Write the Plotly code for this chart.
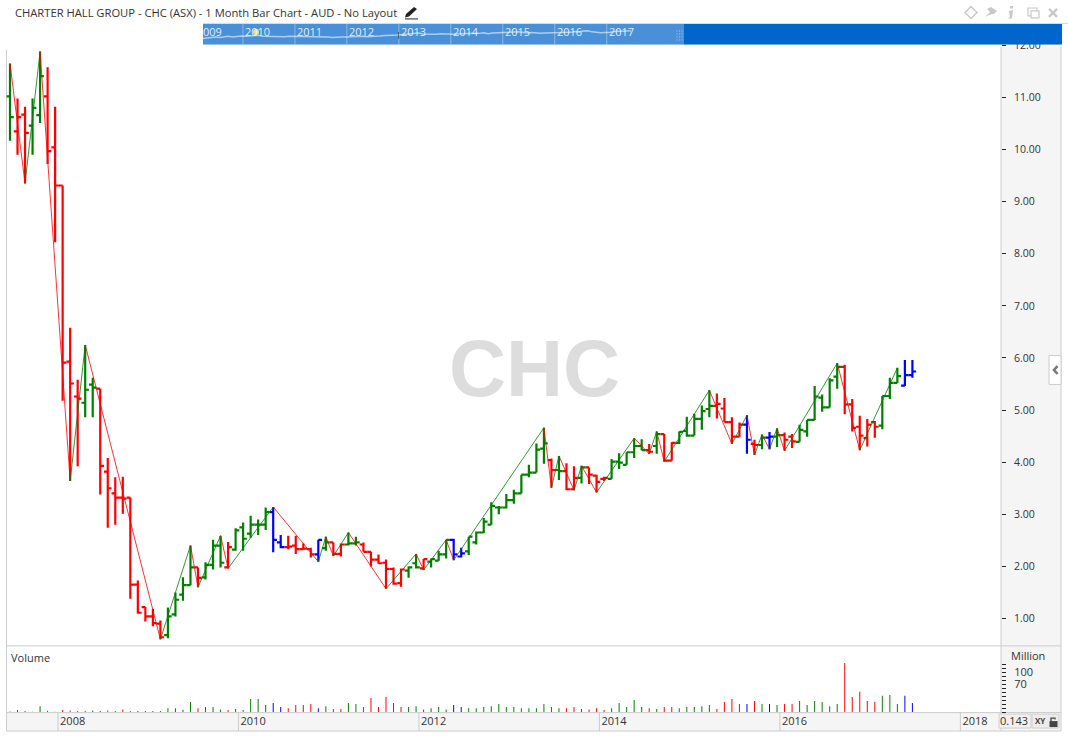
import plotly.graph_objects as go

W, H = 1068, 739

highs = [11.65,10.98,10.82,10.98,11.88,11.58,10.82,9.31,6.58,5.58,
6.25,5.62,5.41,4.08,3.71,3.72,3.32,1.73,1.22,1.18,
0.96,1.21,1.50,1.79,2.40,1.98,2.08,2.51,2.59,2.47,
2.73,2.84,2.97,2.90,3.13,3.14,2.60,2.59,2.59,2.44,
2.36,2.51,2.57,2.46,2.44,2.65,2.57,2.46,2.28,2.23,
2.13,1.98,1.96,2.00,2.24,2.14,2.15,2.30,2.51,2.53,
2.36,2.57,2.67,2.93,3.23,3.16,3.39,3.47,3.76,3.95,
4.36,4.66,4.07,4.12,3.98,3.92,3.93,3.90,3.76,3.72,
4.06,4.17,4.19,4.46,4.44,4.35,4.59,4.54,4.38,4.59,
4.87,4.93,5.09,5.38,5.32,5.23,4.86,4.76,4.90,4.43,
4.53,4.58,4.65,4.57,4.54,4.72,4.81,5.46,5.30,5.61,
5.90,5.87,5.21,4.89,4.83,4.79,5.27,5.62,5.81,5.96,5.96]
lows = [10.17,9.90,9.35,9.90,10.51,9.72,8.22,5.18,3.64,3.92,
4.86,4.86,3.38,2.74,2.80,3.01,1.38,1.09,0.94,0.85,
0.60,0.62,1.04,1.34,1.64,1.60,1.75,1.94,1.98,1.96,
2.30,2.30,2.55,2.60,2.70,2.27,2.35,2.33,2.24,2.32,
2.17,2.09,2.30,2.20,2.19,2.40,2.40,2.28,2.00,2.05,
1.57,1.65,1.61,1.78,1.96,1.93,1.98,2.11,2.15,2.12,
2.17,2.22,2.42,2.64,2.80,3.00,3.11,3.20,3.40,3.71,
3.80,3.97,3.51,3.66,3.46,3.46,3.59,3.58,3.42,3.64,
3.68,3.87,3.95,4.08,4.23,4.16,4.16,4.01,4.03,4.35,
4.49,4.51,4.62,4.86,4.84,4.77,4.35,4.49,4.16,4.14,
4.25,4.25,4.29,4.22,4.27,4.39,4.49,4.81,4.97,5.05,
5.41,4.92,4.59,4.23,4.30,4.47,4.63,5.21,5.52,5.46,5.62]
opens = [11.02,10.35,10.67,10.46,10.66,11.02,10.04,9.31,5.93,5.26,
5.14,5.49,5.41,3.82,3.40,3.32,3.32,1.65,1.22,1.04,
0.90,0.68,1.08,1.46,1.64,1.98,1.79,2.03,2.40,1.98,
2.32,2.75,2.63,2.80,2.80,3.04,2.46,2.37,2.40,2.33,
2.33,2.23,2.35,2.46,2.24,2.42,2.44,2.42,2.28,2.13,
2.07,1.95,1.68,1.92,2.06,1.96,2.09,2.11,2.23,2.51,
2.19,2.29,2.46,2.65,2.80,3.13,3.13,3.27,3.40,3.76,
3.80,4.26,4.04,3.85,3.83,3.48,3.70,3.90,3.74,3.68,
3.68,4.01,3.95,4.19,4.31,4.23,4.31,4.54,4.03,4.37,
4.60,4.51,4.83,5.02,5.08,5.03,4.77,4.49,4.72,4.35,
4.33,4.47,4.49,4.52,4.49,4.39,4.59,4.81,5.24,5.05,
5.64,5.83,5.11,4.68,4.46,4.77,4.70,5.27,5.52,5.47,5.67]
closes = [10.62,10.62,10.32,10.80,11.41,9.97,9.31,5.91,5.51,5.22,
5.39,5.43,3.93,3.50,3.32,3.30,1.65,1.11,1.04,0.91,
0.64,1.04,1.36,1.64,1.98,1.78,2.03,2.40,2.07,2.37,
2.69,2.53,2.80,2.80,3.04,2.51,2.37,2.38,2.33,2.34,
2.23,2.51,2.46,2.24,2.42,2.44,2.46,2.28,2.13,2.06,
1.95,1.67,1.94,1.98,1.98,2.14,2.14,2.23,2.51,2.23,
2.25,2.57,2.65,2.86,3.16,3.13,3.27,3.40,3.76,3.80,
4.24,4.36,3.85,3.83,3.48,3.70,3.90,3.76,3.62,3.70,
4.01,3.99,4.19,4.31,4.23,4.20,4.54,4.03,4.37,4.58,
4.51,4.83,4.98,5.08,5.12,4.77,4.49,4.72,4.43,4.33,
4.47,4.49,4.52,4.43,4.40,4.62,4.81,5.26,5.05,5.57,
5.83,5.11,4.66,4.51,4.72,4.68,5.27,5.52,5.65,5.67,5.74]
volumes = [1.7,5,2.6,1,15,3.4,1,5,4.3,2.6,
2.6,4.3,2.6,4.3,2.6,6.8,2.6,2.6,2.6,2.6,
2.6,10,10,6,25.5,10,12.8,12.8,6.8,5,
7.7,5,33,33,18,23,12.8,9.4,18,18,
20.4,10,15,7.7,7.7,23,20.4,12.8,35.7,12.8,
38,23,12.8,12.8,15,6.8,9.4,12.8,6.8,18,
12.8,10,9.4,12.8,15,20.4,12.8,12.8,10,10,
10,20.4,12.8,10,10,12.8,7.7,6.8,10,5,
10,23,12.8,30.6,12.8,10,7.7,12.8,12.8,10,
12.8,12.8,15,18,7.7,25.5,33,20.4,20.4,28,
20.4,20.4,18,20.4,20.4,28,18,28,25.5,15,
20.4,123,38,51,28,25.5,41,43,20.4,41,23]
months = list(range(len(closes)))

green_months = [0,3,4,10,11,21,22,23,24,26,27,28,30,31,32,33,34,42,45,46,53,54,56,57,58,
                61,62,63,64,65,66,67,68,69,70,71,73,76,80,81,82,83,84,86,89,90,91,92,93,
                100,102,105,106,107,108,109,110,116,117,118]
blue_months = [35,36,41,59,60,98,101,119,120]

# swing pivots: month index and price
swing_months = [0,2,4,8,10,20,24,25,28,29,35,41,42,43,45,50,54,55,58,59,71,72,73,75,76,78,83,85,86,87,93,96,98,99,100,101,102,103,110,113,118]
swing_prices = [11.65,9.35,11.88,3.64,6.25,0.60,2.40,1.60,2.59,1.96,3.14,2.09,2.57,2.20,2.65,1.57,2.24,1.93,2.51,2.12,
                4.66,3.51,4.12,3.46,3.93,3.42,4.46,4.16,4.59,4.01,5.38,4.35,4.90,4.14,4.53,4.25,4.65,4.22,5.90,4.23,5.81]

price_ticks = [1,2,3,4,5,6,7,8,9,10,11,12]
year_labels = ["2008","2010","2012","2014","2016","2018"]
year_months = [6.38,30.38,54.38,78.38,102.38,126.38]
nav_years = ["2010","2011","2012","2013","2014","2015","2016","2017"]
nav_year_months = [30.38,42.38,54.38,66.38,78.38,90.38,102.38,114.38]

GREEN, RED, BLUE = "#008000", "#ff0000", "#0000ff"
VOL_COLOURS = {GREEN: "rgba(0,128,0,0.99)", RED: "rgba(255,0,0,0.99)", BLUE: "rgba(0,0,255,0.99)"}
TXT = "#333333"
FONT = "Open Sans"
BORDER = "#cccccc"
PANEL = "#f5f5f5"

def colour_of(m):
    if m in blue_months:
        return BLUE
    if m in green_months:
        return GREEN
    return RED

def px(x): return x / W
def py(y): return 1 - y / H

PPM = 7.52      # pixels per month in main pane
X0 = 10.0       # pixel of first bar
PAD_L, PAD_R = 6.5, 1001.0
xrange_main = [(PAD_L - X0) / PPM, (PAD_R - X0) / PPM]

fig = go.Figure()

for col in (GREEN, RED, BLUE):
    idx = [m for m in months if colour_of(m) == col]
    fig.add_trace(go.Ohlc(
        x=idx,
        open=[opens[i] for i in idx], high=[highs[i] for i in idx],
        low=[lows[i] for i in idx], close=[closes[i] for i in idx],
        increasing=dict(line=dict(color=col, width=2.2)),
        decreasing=dict(line=dict(color=col, width=2.2)),
        tickwidth=0.5, showlegend=False, hoverinfo="skip",
        xaxis="x", yaxis="y"))

for col, start in ((RED, 0), (GREEN, 1)):
    sx, sy = [], []
    for i in range(start, len(swing_months) - 1, 2):
        sx += [swing_months[i], swing_months[i + 1], None]
        sy += [swing_prices[i], swing_prices[i + 1], None]
    fig.add_trace(go.Scatter(x=sx, y=sy, mode="lines", showlegend=False, hoverinfo="skip",
                             line=dict(color=col, width=1), opacity=0.8, xaxis="x", yaxis="y"))

fig.add_trace(go.Bar(x=months, y=volumes, width=1 / PPM, showlegend=False, hoverinfo="skip",
                     marker=dict(color=[VOL_COLOURS[colour_of(m)] for m in months], line=dict(width=0)),
                     xaxis="x2", yaxis="y2"))

# navigator sparkline, same closes at compressed scale
NAV_L, NAV_SPLIT, NAV_R = 203.0, 684.0, 1062.0
NAV_PPM = 4.33
nav_x0 = 21.15
nav_range = [nav_x0, nav_x0 + (NAV_R - NAV_L) / NAV_PPM]
nav_yrange = [-2.7, 9.9]
fig.add_trace(go.Scatter(x=months[21:], y=closes[21:], mode="lines", showlegend=False, hoverinfo="skip",
                         line=dict(color="rgba(255,255,255,0.55)", width=1.5), xaxis="x3", yaxis="y3"))
fig.add_trace(go.Scatter(x=[33.4], y=[5.0], mode="markers", showlegend=False, hoverinfo="skip",
                         marker=dict(color="#e6e08c", size=6), xaxis="x3", yaxis="y3"))

shapes = []
def rect(x0, y0, x1, y1, fill, line=None, layer="below", lw=1):
    shapes.append(dict(type="rect", xref="paper", yref="paper", x0=px(x0), x1=px(x1), y0=py(y0), y1=py(y1),
                       fillcolor=fill, line=dict(color=line or "rgba(0,0,0,0)", width=lw if line else 0), layer=layer))
def seg(x0, y0, x1, y1, col=BORDER, w=1, layer="below"):
    shapes.append(dict(type="line", xref="paper", yref="paper", x0=px(x0), x1=px(x1), y0=py(y0), y1=py(y1),
                       line=dict(color=col, width=w), layer=layer))
def poly(pts, fill=None, col=None, w=1, close=True, layer="above"):
    d = "M" + " L".join(f"{px(a):.5f},{py(b):.5f}" for a, b in pts) + (" Z" if close else "")
    shapes.append(dict(type="path", xref="paper", yref="paper", path=d, fillcolor=fill or "rgba(0,0,0,0)",
                       line=dict(color=col or "rgba(0,0,0,0)", width=w if col else 0), layer=layer))

STRIP_T, STRIP_B = 712.5, 731.0
# frame and panels
rect(1001, 44, 1061, STRIP_B, PANEL)
rect(6.5, STRIP_T, 1061, STRIP_B, PANEL)
seg(6.5, 47, 6.5, STRIP_B)
seg(1061, 44, 1061, STRIP_B)
seg(1001, 44, 1001, STRIP_B)
seg(6.5, 645.5, 1061, 645.5)
seg(6.5, STRIP_T, 1061, STRIP_T)
seg(6.5, STRIP_B, 1061, STRIP_B)
for m in year_months:
    shapes.append(dict(type="line", xref="x2", yref="paper", x0=m, x1=m, y0=py(STRIP_T), y1=py(STRIP_B),
                       line=dict(color=BORDER, width=1), layer="below"))
seg(203, 20.5, 1068, 20.5, "#d8d8d8")

# navigator band, drawn inside its own subplot so it sits over the clipped 12.00 label
split = nav_x0 + (NAV_SPLIT - NAV_L) / NAV_PPM
for a, b, c in ((nav_range[0], split, "#4a90d9"), (split, nav_range[1], "#0066cc")):
    shapes.append(dict(type="rect", xref="x3", yref="y3", x0=a, x1=b, y0=nav_yrange[0], y1=nav_yrange[1],
                       fillcolor=c, line=dict(width=0), layer="between"))
for m in nav_year_months:
    shapes.append(dict(type="line", xref="x3", yref="y3", x0=m, x1=m, y0=nav_yrange[0], y1=nav_yrange[1],
                       line=dict(color="rgba(255,255,255,0.35)", width=1), layer="between"))
for gx in (677, 679.5, 682):
    for gy in (27, 30, 33, 36):
        seg(gx, gy, gx, gy + 2, "rgba(255,255,255,0.35)", 0.8, "above")
seg(398.5, 29, 398.5, 36, "rgba(60,60,60,0.7)", 1, "above")

# title-bar icons
ICON = "#c9c9c9"
poly([(971, 3.5), (977, 9.5), (971, 15.5), (965, 9.5)], None, ICON, 1.5)
poly([(985, 14), (990, 9), (987, 6), (991, 4), (997, 8), (994, 11), (992, 11), (987, 13)], ICON)
poly([(1009, 8), (1013, 7), (1012, 15), (1014, 15), (1008, 16), (1010, 14)], ICON)
poly([(1010, 3), (1013, 3), (1013, 5.5), (1010, 5.5)], ICON)
rect(1028, 5, 1037, 13, "rgba(0,0,0,0)", ICON, "above", 1.2)
rect(1031, 8, 1039, 15, "rgba(255,255,255,1)", ICON, "above", 1.2)
seg(1049, 6, 1057, 14, ICON, 2.5, "above")
seg(1057, 6, 1049, 14, ICON, 2.5, "above")
# edit pen
poly([(406, 11), (414, 4), (417, 6), (409, 13.5), (405, 14.5)], "#222222")
seg(405, 16, 418, 16, "#222222", 1, "above")
# side tab
rect(1049, 354, 1061, 383, "#ffffff", BORDER)
poly([(1057.5, 364.5), (1054, 368.5), (1057.5, 372.5)], None, "#777777", 2.6, close=False)
# coordinates box
rect(999, 714, 1031, 728, "#f0f0f0", "#d0d0d0", "above")
rect(1032, 714, 1059, 728, "#ececec", "#d0d0d0", "above")
rect(1049.5, 721, 1057.5, 727, "#444444", None, "above")
poly([(1051, 721), (1051, 718), (1055, 718), (1055, 719.5)], None, "#444444", 1.3, close=False)

ann = []
def text(x, y, s, size=11, color=TXT, anchor="left", family=FONT, bold=False):
    ann.append(dict(xref="paper", yref="paper", x=px(x), y=py(y), text=f"<b>{s}</b>" if bold else s,
                    showarrow=False, xanchor=anchor, yanchor="middle",
                    font=dict(family=family, size=size, color=color), borderpad=0, borderwidth=0))

text(15, 9.5, "CHARTER HALL GROUP - CHC (ASX) - 1 Month Bar Chart - AUD - No Layout", 11.2)
text(534, 367, "CHC", 79, "#dddddd", "center", "Liberation Sans", True)
text(11, 657, "Volume", 11)
text(1011, 655, "Million", 11)
text(1000, 720.5, "0.143", 11)
text(1035, 720.5, "XY", 8, "#444444", bold=True)
text(203, 29, "009", 11, "rgba(255,255,255,0.85)")
for m, lab in zip(nav_year_months, nav_years):
    text(NAV_L + (m - nav_x0) * NAV_PPM + 15, 29, lab, 11, "rgba(255,255,255,0.85)", "center")

y_top, y_bot = 38.0, 645.0
PX_PER_UNIT = 52.32
yrange_main = [1 - (y_bot - 618) / PX_PER_UNIT, 1 + (618 - y_top) / PX_PER_UNIT]
vol_base, vol_top, VOL_PPM = 712.0, 646.0, 0.4

fig.update_layout(
    width=W, height=H, margin=dict(l=0, r=0, t=0, b=0), autosize=False,
    paper_bgcolor="#ffffff", plot_bgcolor="rgba(0,0,0,0)", showlegend=False, barmode="overlay",
    font=dict(family=FONT, size=11, color=TXT),
    shapes=shapes, annotations=ann, hovermode=False,
    xaxis=dict(domain=[px(PAD_L), px(PAD_R)], range=xrange_main, anchor="y", showticklabels=False, ticks="",
               showgrid=False, zeroline=False, rangeslider=dict(visible=False), fixedrange=True),
    yaxis=dict(domain=[py(y_bot), py(y_top)], range=yrange_main, side="right", anchor="x",
               tickvals=price_ticks, ticktext=[f"{v:.2f}" for v in price_ticks],
               ticks="outside", ticklen=4, tickcolor="#222222", tickwidth=1, ticklabelstandoff=6,
               tickfont=dict(family=FONT, size=10.5, color=TXT),
               showgrid=False, zeroline=False, showline=False, fixedrange=True),
    xaxis2=dict(domain=[px(PAD_L), px(PAD_R)], range=xrange_main, anchor="y2",
                tickvals=[m + 1.95 for m in year_months], ticktext=year_labels, ticks="", ticklabelstandoff=1,
                tickfont=dict(family=FONT, size=11, color=TXT), showgrid=False, zeroline=False, fixedrange=True),
    yaxis2=dict(domain=[py(vol_base), py(vol_top)], range=[0, (vol_base - vol_top) / VOL_PPM], side="right", anchor="x2",
                tickvals=list(range(0, 130, 10)),
                ticktext=["" if v not in (70, 100) else str(v) for v in range(0, 130, 10)],
                ticks="outside", ticklen=4, tickcolor="#222222", tickwidth=1, ticklabelstandoff=6,
                tickfont=dict(family=FONT, size=11, color=TXT),
                showgrid=False, zeroline=False, showline=False, fixedrange=True),
    xaxis3=dict(domain=[px(NAV_L), px(NAV_R)], range=nav_range, anchor="y3", visible=False, fixedrange=True),
    yaxis3=dict(domain=[py(42), py(21)], range=nav_yrange, anchor="x3", visible=False, fixedrange=True),
)

fig.write_html("out.html", config=dict(displayModeBar=False),
               post_script="document.body.style.margin='0';document.documentElement.style.overflow='hidden';")
